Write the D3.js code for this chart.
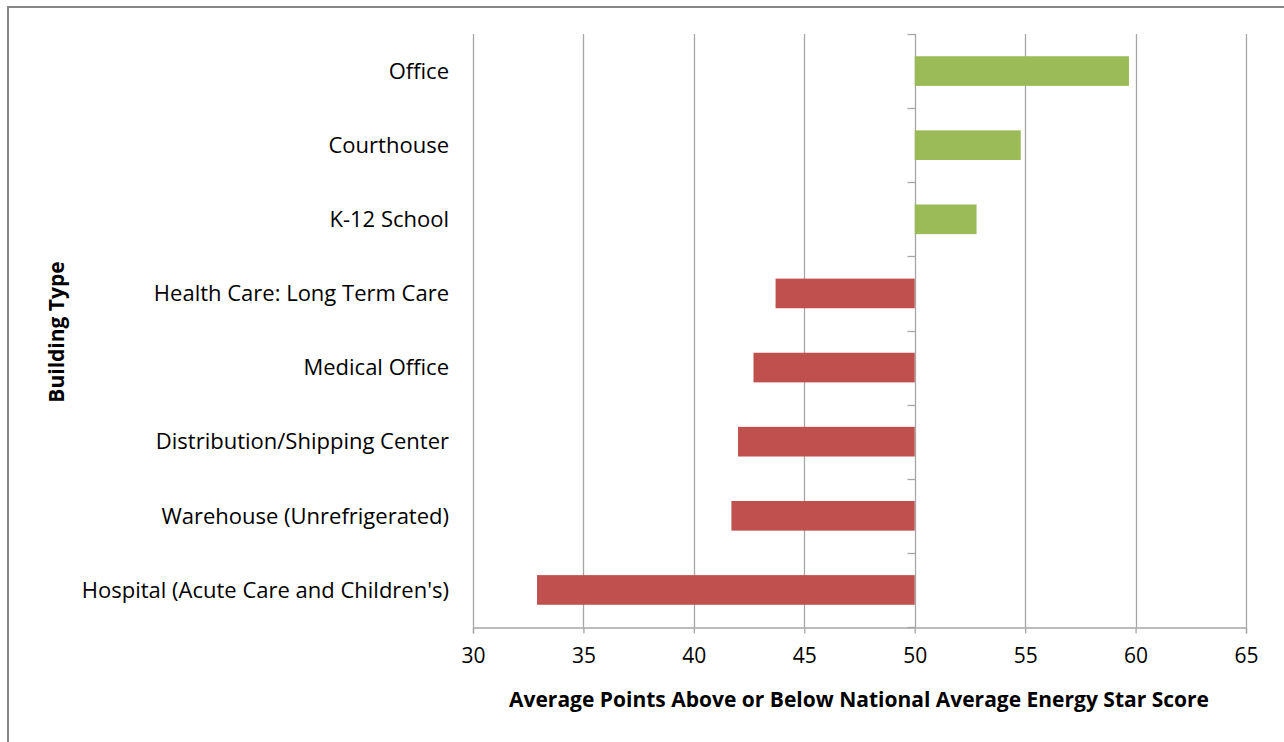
<!DOCTYPE html>
<html>
<head>
<meta charset="utf-8">
<script src="https://cdn.jsdelivr.net/npm/d3@7"></script>
<style>
  body { margin: 0; background: #fff; }
  text { font-family: "Open Sans", "Noto Sans", sans-serif; fill: #000; }
</style>
</head>
<body>
<script>
// building types, top to bottom
const categories = [
    "Office",
    "Courthouse",
    "K-12 School",
    "Health Care: Long Term Care",
    "Medical Office",
    "Distribution/Shipping Center",
    "Warehouse (Unrefrigerated)",
    "Hospital (Acute Care and Children's)"
]
const scores = [59.7, 54.8, 52.8, 43.7, 42.7, 42.0, 41.7, 32.9]
const xTicks = [30, 35, 40, 45, 50, 55, 60, 65]
const baseline = 50

const width = 1284
const height = 742
const plotLeft = 473, plotRight = 1246, plotTop = 34, plotBottom = 627

const svg = d3.select("body").append("svg")
    .attr("width", width)
    .attr("height", height)

// outer frame
svg.append("rect")
    .attr("x", 8).attr("y", 7)
    .attr("width", 1290).attr("height", 760)
    .attr("fill", "none")
    .attr("stroke", "#868686")
    .attr("stroke-width", 2)

const xScale = d3.scaleLinear()
    .domain([30, 65])
    .range([plotLeft, plotRight])

const yScale = d3.scaleBand()
    .domain(categories)
    .range([plotTop, plotBottom])
    .paddingInner(0.6)
    .paddingOuter(0.3)

// gridlines
svg.append("g")
    .selectAll("line")
    .data(xTicks)
    .enter()
    .append("line")
    .attr("x1", d => Math.round(xScale(d)) + 0.5)
    .attr("x2", d => Math.round(xScale(d)) + 0.5)
    .attr("y1", plotTop)
    .attr("y2", plotBottom)
    .attr("stroke", "#a6a6a6")
    .attr("stroke-width", 1.3)

// bars
svg.append("g")
    .selectAll("rect")
    .data(scores)
    .enter()
    .append("rect")
    .attr("x", d => xScale(Math.min(d, baseline)))
    .attr("width", d => Math.abs(xScale(d) - xScale(baseline)))
    .attr("y", (d, i) => yScale(categories[i]))
    .attr("height", yScale.bandwidth())
    .style("fill", d => d >= baseline ? "#9bbb59" : "#c0504d")

// x axis
const xAxis = svg.append("g")
    .attr("transform", `translate(0,${plotBottom + 0.5})`)
    .call(d3.axisBottom(xScale).tickValues(xTicks).tickSize(6).tickPadding(15))
xAxis.select(".domain").attr("stroke", "#a6a6a6").attr("stroke-width", 1.3)
xAxis.selectAll(".tick line").attr("stroke", "#a6a6a6").attr("stroke-width", 1.3)
xAxis.selectAll("text")
    .style("font-size", "21px")
    .style("fill", "#000")
    .style("font-family", "'Open Sans', sans-serif")

// vertical axis at 50 with ticks between categories
const x50 = Math.round(xScale(baseline)) + 0.5
const step = (plotBottom - plotTop) / categories.length
svg.append("g")
    .selectAll("line")
    .data(d3.range(categories.length + 1))
    .enter()
    .append("line")
    .attr("x1", x50 - 8)
    .attr("x2", x50)
    .attr("y1", i => Math.round(plotTop + i * step) + 0.5)
    .attr("y2", i => Math.round(plotTop + i * step) + 0.5)
    .attr("stroke", "#a6a6a6")
    .attr("stroke-width", 1.3)

// category labels
svg.append("g")
    .selectAll("text")
    .data(categories)
    .enter()
    .append("text")
    .attr("x", 449)
    .attr("y", d => yScale(d) + yScale.bandwidth() / 2)
    .attr("dy", "0.35em")
    .attr("text-anchor", "end")
    .style("font-size", "22px")
    .text(d => d)

// axis titles
svg.append("text")
    .attr("x", 859)
    .attr("y", 707)
    .attr("text-anchor", "middle")
    .style("font-size", "21px")
    .style("font-weight", "bold")
    .text("Average Points Above or Below National Average Energy Star Score")

svg.append("text")
    .attr("transform", "translate(64,332) rotate(-90)")
    .attr("text-anchor", "middle")
    .style("font-size", "21px")
    .style("font-weight", "bold")
    .text("Building Type")
</script>
</body>
</html>
